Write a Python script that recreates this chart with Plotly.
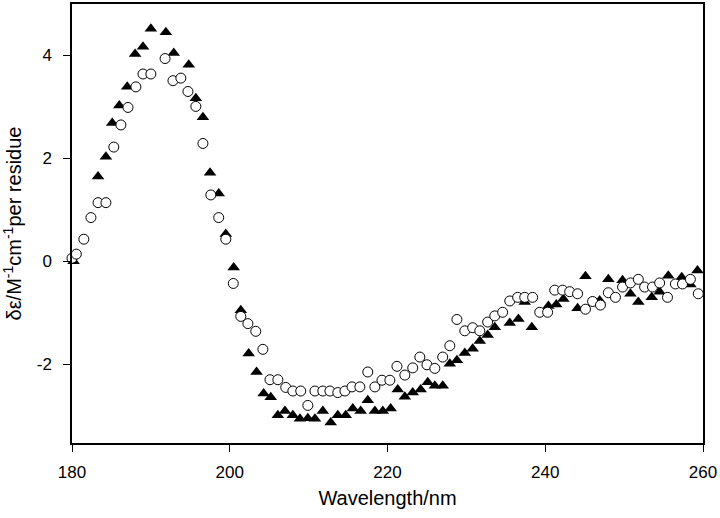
import plotly.graph_objects as go

# Triangles (filled)
tri_nm = [180.2, 183.3, 184.3, 185.1, 186.0, 187.0, 188.0, 189.0, 190.0, 191.9, 192.9, 194.8,
          195.7, 196.6, 197.5, 198.6, 199.5, 200.5, 201.4, 202.4, 203.4, 204.3, 205.2, 206.1,
          207.0, 208.0, 208.9, 209.9, 210.8, 211.8, 212.8, 213.7, 214.7, 215.6, 216.6, 217.5,
          218.4, 219.4, 220.4, 221.3, 222.2, 223.2, 224.2, 225.1, 226.0, 227.0, 227.9, 228.8,
          229.8, 230.8, 231.7, 232.7, 233.6, 235.5, 236.6, 237.4, 238.3, 240.4, 241.4, 242.3,
          244.1, 245.1, 246.9, 248.0, 249.8, 250.8, 251.8, 253.5, 254.5, 255.6, 257.3, 258.4,
          259.3]
tri_val = [0.00, 1.65, 2.03, 2.69, 3.03, 3.39, 4.03, 4.17, 4.52, 4.45, 4.05, 3.82,
           3.17, 2.80, 1.72, 1.32, 0.53, -0.12, -0.95, -1.79, -2.15, -2.57, -2.64, -2.99,
           -2.91, -2.99, -3.06, -3.05, -3.06, -2.91, -3.13, -2.99, -2.99, -2.86, -2.91, -2.70,
           -2.91, -2.91, -2.86, -2.49, -2.63, -2.55, -2.49, -2.35, -2.42, -2.42, -1.99, -1.92,
           -1.78, -1.70, -1.55, -1.43, -1.28, -1.20, -1.12, -0.79, -1.28, -0.87, -0.84, -0.73,
           -0.91, -0.29, -0.76, -0.35, -0.37, -0.63, -0.79, -0.70, -0.59, -0.28, -0.31, -0.45,
           -0.18]

# Circles (open)
circ_nm = [180.0, 180.55, 181.5, 182.4, 183.3, 184.3, 185.3, 186.2, 187.1, 188.1, 189.0, 190.0,
           191.8, 192.8, 193.8, 194.7, 195.7, 196.6, 197.6, 198.6, 199.5, 200.45, 201.4, 202.3,
           203.3, 204.2, 205.1, 206.1, 207.1, 208.0, 209.0, 209.9, 210.8, 211.8, 212.7, 213.7,
           214.6, 215.5, 216.5, 217.5, 218.4, 219.3, 220.3, 221.2, 222.2, 223.2, 224.1, 225.0,
           226.0, 227.0, 227.9, 228.8, 229.8, 230.8, 231.7, 232.7, 233.6, 234.6, 235.5, 236.5,
           237.4, 238.4, 239.3, 240.3, 241.2, 242.2, 243.1, 244.1, 245.1, 246.0, 247.0, 248.0,
           248.9, 249.8, 250.8, 251.8, 252.6, 253.6, 254.5, 255.5, 256.5, 257.4, 258.4, 259.4]
circ_val = [0.06, 0.14, 0.43, 0.85, 1.14, 1.14, 2.22, 2.65, 2.99, 3.39, 3.64, 3.64,
            3.94, 3.51, 3.56, 3.30, 3.01, 2.29, 1.29, 0.85, 0.43, -0.43, -1.07, -1.21,
            -1.36, -1.71, -2.30, -2.30, -2.45, -2.52, -2.52, -2.80, -2.52, -2.52, -2.52, -2.55,
            -2.52, -2.44, -2.44, -2.15, -2.44, -2.31, -2.31, -2.04, -2.21, -2.07, -1.86, -2.01,
            -2.08, -1.86, -1.64, -1.13, -1.35, -1.29, -1.35, -1.18, -1.06, -0.99, -0.77, -0.70,
            -0.70, -0.70, -0.99, -0.99, -0.56, -0.56, -0.59, -0.63, -0.93, -0.78, -0.85, -0.61,
            -0.70, -0.50, -0.42, -0.35, -0.50, -0.50, -0.42, -0.70, -0.44, -0.44, -0.35, -0.63]

x_ticks = [180, 200, 220, 240, 260]
y_ticks = [-2, 0, 2, 4]

FONT = "Liberation Sans, Arial, sans-serif"

fig = go.Figure()
fig.add_trace(go.Scatter(
    x=tri_nm, y=tri_val, mode="markers", cliponaxis=False,
    marker=dict(symbol="triangle-up", size=11, color="black",
                line=dict(color="black", width=0)),
    showlegend=False))
fig.add_trace(go.Scatter(
    x=circ_nm, y=circ_val, mode="markers", cliponaxis=False,
    marker=dict(symbol="circle", size=10, color="white",
                line=dict(color="black", width=1)),
    showlegend=False))

fig.update_layout(
    width=720, height=518,
    margin=dict(l=72, r=17, t=2, b=75),
    paper_bgcolor="white", plot_bgcolor="white",
    font=dict(family=FONT, color="black", size=17),
    xaxis=dict(range=[180, 260], tickvals=x_ticks, ticktext=[str(v) for v in x_ticks],
               showgrid=False, zeroline=False, showline=True, linecolor="black",
               linewidth=1.5, mirror=True, ticks="outside", ticklen=7, tickwidth=1,
               tickcolor="black", ticklabelstandoff=6,
               title=dict(text="Wavelength/nm", font=dict(size=20), standoff=10)),
    yaxis=dict(range=[-3.53, 5.0], tickvals=y_ticks, ticktext=[str(v) for v in y_ticks],
               showgrid=False, zeroline=False, showline=True, linecolor="black",
               linewidth=1.5, mirror=True, ticks="outside", ticklen=7, tickwidth=1,
               tickcolor="black", ticklabelstandoff=8,
               title=dict(text="δε/M<sup>-1</sup>cm<sup>-1</sup>per residue",
                          font=dict(size=20), standoff=10)),
)

fig.write_html("out.html",
               config={"displayModeBar": False},
               post_script="document.body.style.margin='0';document.body.style.overflow='hidden';")
